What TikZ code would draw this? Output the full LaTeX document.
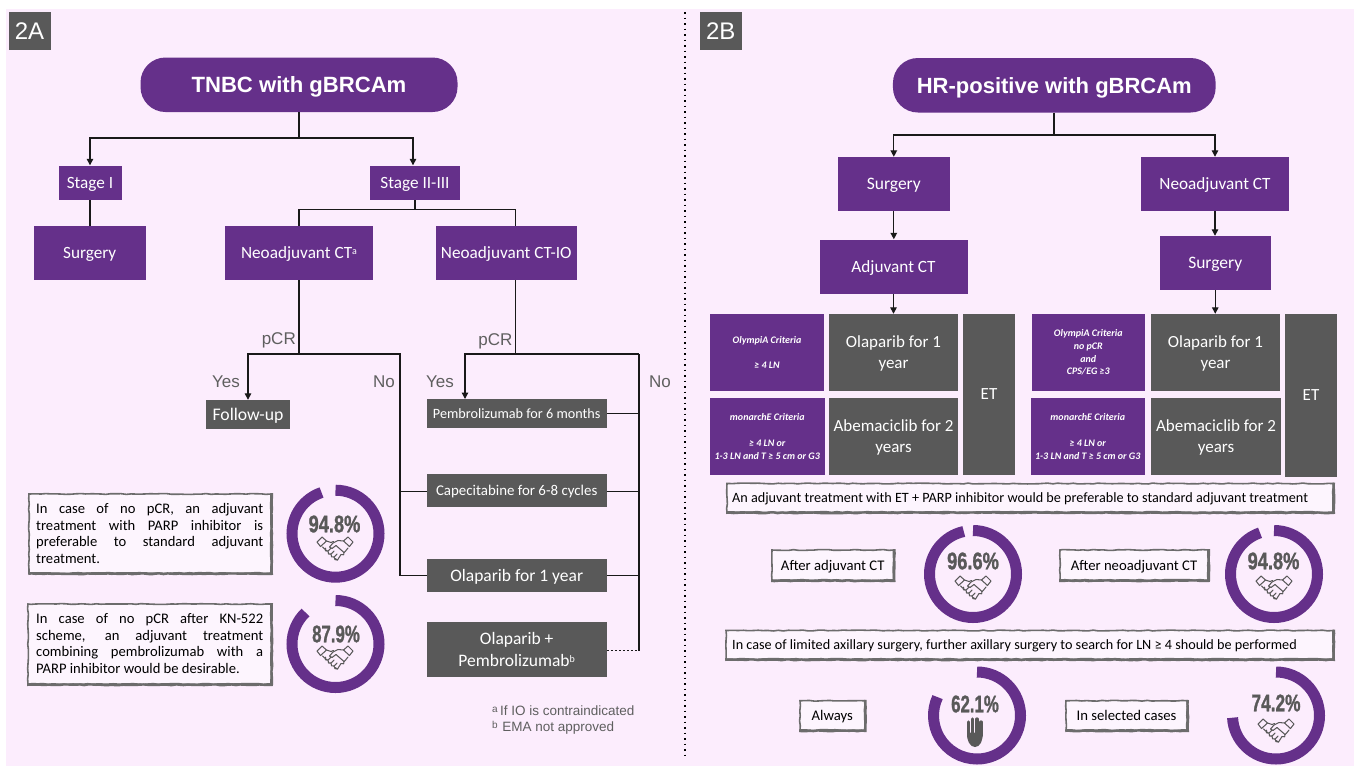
\documentclass[tikz,border=0pt]{standalone}
\usepackage{fontspec}
\setmainfont{Carlito}
\newfontfamily\arialf{Liberation Sans}
\newfontfamily\pctf{Liberation Sans}[BoldFeatures={FakeBold=1.3}]
\usetikzlibrary{arrows.meta,decorations.pathmorphing,calc}
\definecolor{pbg}{HTML}{FCEDFD}
\definecolor{pur}{HTML}{65308A}
\definecolor{gry}{HTML}{595959}
\definecolor{txg}{HTML}{5F5F5F}
\definecolor{edg}{HTML}{6C6C6C}
\definecolor{cbg}{HTML}{FDF5FE}
\newcommand{\fs}[1]{\fontsize{#1}{#1}\selectfont}
\newcommand{\jl}[2]{\makebox[#1pt][s]{#2}}
\newcommand{\sps}[2]{\raisebox{#2pt}{\fs{10}#1}}
\tikzset{
  x=1pt,y=-1pt,
  box/.style={inner sep=0pt,text=white,align=center,font=\fs{17.2}},
  pbox/.style={box,fill=pur,text depth=0pt},
  gbox/.style={box,fill=gry,text depth=0pt},
  pill/.style={pbox,rounded corners=25pt,font=\arialf\bfseries\fs{22.1}},
  tag/.style={gbox,font=\arialf\fs{24}},
  crit/.style={box,fill=pur,font=\bfseries\itshape\fontsize{10}{12.8}\selectfont},
  big/.style={gbox,font=\fontsize{17}{21}\selectfont},
  callout/.style={inner sep=0pt,fill=cbg,draw=edg,line width=1.6pt,text=black,text depth=0pt,decorate,
     decoration={random steps,segment length=5pt,amplitude=0.45pt}},
  rough/.style={draw=edg,line width=2.4pt,decorate,
     decoration={random steps,segment length=4pt,amplitude=0.4pt}},
  cs/.style={font=\fontsize{14.6}{16.7}\selectfont,align=left,text=black},
  line/.style={draw=black!90,line width=1.3pt},
  arr/.style={line,-{Stealth[length=6.5pt,width=6.5pt,inset=0pt]}},
  lab/.style={text=txg,font=\arialf\fs{17},inner sep=0pt},
  pct/.style={text=gry,inner sep=0pt},
  donut/.style={draw=pur,line width=11pt,line cap=butt},
  pics/shake/.style={code={
    \begin{scope}[draw=gry,line width=1.05pt,line join=round,line cap=round]
    \draw (-18,-6) -- (-13,-11) -- (-8.5,-7) -- (-14.5,-1.5) -- cycle;
    \draw (18,-6) -- (13,-11) -- (8.5,-7) -- (14.5,-1.5) -- cycle;
    \draw (-8.5,-7) -- (-4,-5.5) -- (-1.5,-6.5);
    \draw (8.5,-7) -- (3,-7.5) -- (-2,-5) -- (-5.5,-1) -- (-3,0.5) -- (1,-2.5) -- (9,4.5) -- (11,2.5) -- (13,0);
    \draw (9,4.5) .. controls (10,6.5) and (8,8) .. (6,6.5) -- (2.5,12) -- (0,10.5);
    \draw (-12.5,-1) -- (-8,3);
    \draw (-9.5,0.2) .. controls (-11,2) and (-9,4.5) .. (-7,3) .. controls (-8,5.5) and (-5.5,7.5) .. (-4,6) .. controls (-5,8) and (-2.5,10.5) .. (-1,9) .. controls (-1.5,11) and (1,13) .. (2.5,12);
    \draw (-7,3) -- (-4,0.2) (-4,6) -- (-1,3) (-1,9) -- (2,6);
    \end{scope}}},
  pics/palm/.style={code={
    \begin{scope}[gry]
    \foreach \a/\b in {-6.2/-10.5,-2.2/-13.5,1.9/-13.5,5.9/-10.5}
      \draw[line width=3.3pt,line cap=round] (\a,\b) -- (\a,3);
    \fill (-7.9,0) -- (7.6,0) .. controls (8.3,8) and (5,14.5) .. (0,14.5) .. controls (-5,14.5) and (-8.6,8) .. (-7.9,0) -- cycle;
    \end{scope}}}
}
\newcommand{\donutat}[3]{% cx cy delta
  \draw[donut] ($(#1,#2)+(90:43.5pt)$) arc[start angle=90,delta angle=-#3,radius=43.5pt];
}
\begin{document}
\begin{tikzpicture}
\useasboundingbox (0,0) rectangle (1354,769);
\fill[white] (0,0) rectangle (1354,769);
\fill[pbg] (6,9) rectangle (1354,766);
% divider
\draw[black,line width=1.6pt,dash pattern=on 1.6pt off 3.9pt] (685,12) -- (685,755);
% tags
\node[tag,minimum width=42pt,minimum height=38pt] (t2a) at (29.5,31) {2A};
\node[tag,minimum width=41.5pt,minimum height=38pt] (t2b) at (720.75,31) {2B};
% ---------- 2A
\node[pill,minimum width=317pt,minimum height=54.5pt] (tnbc) at (299,84.75) {TNBC with gBRCAm};
\node[pbox,minimum width=63pt,minimum height=34.5pt] (st1) at (90,182.75) {Stage I};
\node[pbox,minimum width=90pt,minimum height=34.5pt] (st2) at (415,182.75) {Stage II-III};
\node[pbox,minimum width=111.5pt,minimum height=54pt] (surgA) at (89.75,253) {Surgery};
\node[pbox,minimum width=148pt,minimum height=54pt] (neoA) at (299,253) {Neoadjuvant CT\sps{a}{4}};
\node[pbox,minimum width=140.5pt,minimum height=54pt] (neoIO) at (506.25,253) {Neoadjuvant CT-IO};
\node[gbox,minimum width=84.8pt,minimum height=28.5pt,font=\fs{17.7}] (fu) at (248,414.25) {Follow-up};
\node[gbox,minimum width=180pt,minimum height=29pt,font=\fs{14.2}] (pem) at (516.7,413.5) {Pembrolizumab for 6 months};
\node[gbox,minimum width=180pt,minimum height=32.5pt,font=\fs{14.9}] (cap) at (516.7,490.25) {Capecitabine for 6-8 cycles};
\node[gbox,minimum width=180pt,minimum height=32.5pt,font=\fs{17.5}] (ola) at (516.7,575.25) {Olaparib for 1 year};
\node[gbox,minimum width=180pt,minimum height=54.5pt,font=\fontsize{17.5}{22}\selectfont] (olp) at (516.7,649.25) {Olaparib +\\Pembrolizumab\sps{b}{4}};
% junctions
\coordinate (a1) at (299,138);
\coordinate (a2) at (415,209.5);
\coordinate (b1) at (299,354);
\coordinate (b2) at (400,354);
\coordinate (c0) at (515.5,280);
\coordinate (c1) at (515.5,354);
\coordinate (c2) at (639,354);
\coordinate (c3) at (465,399);
\coordinate (c4) at (639,650.5);
\draw[line] (tnbc.south) -- (a1);
\draw[arr] (a1) -| (st1.north);
\draw[arr] (a1) -| ([xshift=-2pt]st2.north);
\draw[line] (st1.south) -- (surgA.north -| st1.south);
\draw[line] (st2.south) -- (a2);
\draw[line] (neoA.north) |- (a2) -| ([xshift=9.5pt]neoIO.north);
\draw[line] (neoA.south) -- (b1);
\draw[arr] (b1) -| (fu.north);
\draw[line] (b1) -- (b2) -- (ola.west -| b2) -- (ola.west);
\draw[line] (b2 |- 0,491.5) -- (cap.west |- 0,491.5);
\draw[line] (c0) -- (c1);
\draw[arr] (c2) -- (c1 -| c3) -- (c3);
\draw[line] (c2) -- (c4);
\draw[line] (pem.east) -- (pem.east -| c2);
\draw[line] (cap.east |- 0,491.5) -- (c2 |- 0,491.5);
\draw[line] (ola.east) -- (ola.east -| c2);
\draw[line,dash pattern=on 2pt off 2pt] (olp.east |- c4) -- (c4);
\node[lab,anchor=east] (p1) at (296,340.5) {pCR};
\node[lab] (y1) at (226,381.5) {Yes};
\node[lab] (n1) at (384,382) {No};
\node[lab,anchor=east] (p2) at (512.5,341) {pCR};
\node[lab] (y2) at (440,381.5) {Yes};
\node[lab] (n2) at (660,382) {No};
\node[anchor=west,inner sep=0pt,text=txg,font=\arialf\fs{13.5}] (fn1) at (492,711) {\sps{a}{3}\,If IO is contraindicated};
\node[anchor=west,inner sep=0pt,text=txg,font=\arialf\fs{13.5}] (fn2) at (492,727.5) {\sps{b}{3}\,\,EMA not approved};
% callouts left
\node[callout,minimum width=242pt,minimum height=79pt] (c1b) at (150,533.5) {};
\node[cs,anchor=west,inner sep=0pt] (c1t) at (36,533.5) {\jl{227}{In case of no pCR, an adjuvant}\\\jl{227}{treatment with PARP inhibitor is}\\\jl{227}{preferable to standard adjuvant}\\treatment.};
\node[callout,minimum width=243pt,minimum height=80pt] (c2b) at (149.5,644) {};
\node[cs,anchor=west,inner sep=0pt] (c2t) at (36,643.5) {\jl{227}{In case of no pCR after KN-522}\\\jl{227}{scheme, an adjuvant treatment}\\\jl{227}{combining pembrolizumab with a}\\PARP inhibitor would be desirable.};
\donutat{335.5}{533.7}{341.28}
\donutat{335.5}{644}{316.44}
\node[pct] (v1) at (334.5,524) {\scalebox{0.76}[1]{\pctf\bfseries\fs{24}94.8\%}};
\node[pct] (v2) at (336,634) {\scalebox{0.7}[1]{\pctf\bfseries\fs{24}87.9\%}};
\pic at (335,548) {shake};
\pic at (335,657) {shake};
% ---------- 2B
\node[pill,minimum width=322.7pt,minimum height=54.5pt,font=\arialf\bfseries\fs{22}] (hr) at (1054.3,85.25) {HR-positive with gBRCAm};
\node[pbox,minimum width=111.6pt,minimum height=54pt,font=\fs{17.5}] (surgB) at (893.8,184) {Surgery};
\node[pbox,minimum width=148pt,minimum height=54pt] (neoB) at (1215,184) {Neoadjuvant CT};
\node[pbox,minimum width=148pt,minimum height=54.5pt] (adj) at (893.5,266.75) {Adjuvant CT};
\node[pbox,minimum width=111.5pt,minimum height=54pt,font=\fs{17.5}] (surgC) at (1215.25,263) {Surgery};
\node[crit,minimum width=114pt,minimum height=77pt] (oa) at (767,352.5) {OlympiA Criteria\\[12.8pt]≥ 4 LN};
\node[crit,minimum width=114.5pt,minimum height=77pt] (ma) at (767.25,436.5) {monarchE Criteria\\[12.8pt]≥ 4 LN or\\1-3 LN and T ≥ 5 cm or G3};
\node[big,minimum width=129pt,minimum height=77pt] (la) at (893.5,352.5) {Olaparib for 1\\year};
\node[big,minimum width=129pt,minimum height=77pt] (aa) at (893.5,436.5) {Abemaciclib for 2\\years};
\node[big,minimum width=52pt,minimum height=161pt] (eta) at (989,394.5) {ET};
\node[crit,minimum width=113.5pt,minimum height=77pt] (ob) at (1088.25,352.5) {OlympiA Criteria\\no pCR\\and\\CPS/EG ≥3};
\node[crit,minimum width=113.5pt,minimum height=77pt] (mb) at (1087.75,436.5) {monarchE Criteria\\[12.8pt]≥ 4 LN or\\1-3 LN and T ≥ 5 cm or G3};
\node[big,minimum width=129pt,minimum height=77pt] (lb) at (1215.5,352.5) {Olaparib for 1\\year};
\node[big,minimum width=130pt,minimum height=77pt] (ab) at (1216,436.5) {Abemaciclib for 2\\years};
\node[big,minimum width=52pt,minimum height=163pt] (etb) at (1311,395.5) {ET};
\coordinate (h1) at (1054,135);
\draw[line] (hr.south -| h1) -- (h1);
\draw[arr] (h1) -| (surgB.north);
\draw[arr] (h1) -| (neoB.north);
\draw[arr] (surgB.south) -- (adj.north -| surgB.south);
\draw[arr] (neoB.south) -- (surgC.north -| neoB.south);
\draw[arr] (adj.south) -- (la.north -| adj.south);
\draw[arr] (surgC.south) -- (lb.north -| surgC.south);
\node[callout,minimum width=606pt,minimum height=28.5pt] (d1) at (1030,497.75) {};
\node[anchor=west,inner sep=0pt,font=\fs{14.2},text=black,text depth=0pt] (d1t) at (732,497.5) {An adjuvant treatment with ET + PARP inhibitor would be preferable to standard adjuvant treatment};
\node[callout,minimum width=607pt,minimum height=28.5pt] (d2) at (1029.5,644.75) {};
\node[anchor=west,inner sep=0pt,font=\fs{14.2},text=black,text depth=0pt] (d2t) at (732,644.5) {In case of limited axillary surgery, further axillary surgery to search for LN ≥ 4 should be performed};
\node[callout,minimum width=121.5pt,minimum height=30pt,font=\fs{14.7}] (e1) at (832.75,565) {After adjuvant CT};
\node[callout,minimum width=148pt,minimum height=30pt,font=\fs{14.7}] (e2) at (1134,565) {After neoadjuvant CT};
\node[callout,minimum width=64.6pt,minimum height=29.3pt,font=\fs{14.7}] (e3) at (832.3,715.4) {Always};
\node[callout,minimum width=121pt,minimum height=29.3pt,font=\fs{14.7}] (e4) at (1126.5,715.4) {In selected cases};
\donutat{973}{574}{347.76}
\donutat{1274}{574}{341.28}
\donutat{977}{715.5}{295}
\donutat{1276}{715.5}{267.12}
\node[pct] (v3) at (973,561) {\scalebox{0.76}[1]{\pctf\bfseries\fs{24}96.6\%}};
\node[pct] (v4) at (1273.5,561) {\scalebox{0.76}[1]{\pctf\bfseries\fs{24}94.8\%}};
\node[pct] (v5) at (975,704) {\scalebox{0.7}[1]{\pctf\bfseries\fs{24}62.1\%}};
\node[pct] (v6) at (1276,703) {\scalebox{0.72}[1]{\pctf\bfseries\fs{24}74.2\%}};
\pic at (973,587) {shake};
\pic at (1274,587) {shake};
\pic at (975,732.5) {palm};
\pic at (1276,730) {shake};
% heavier right and bottom edges of the callouts
\foreach \n in {c1b,c2b,d1,d2,e1,e2,e3,e4}
  \draw[rough] (\n.north east) -- (\n.south east) -- (\n.south west);
\end{tikzpicture}
\end{document}
